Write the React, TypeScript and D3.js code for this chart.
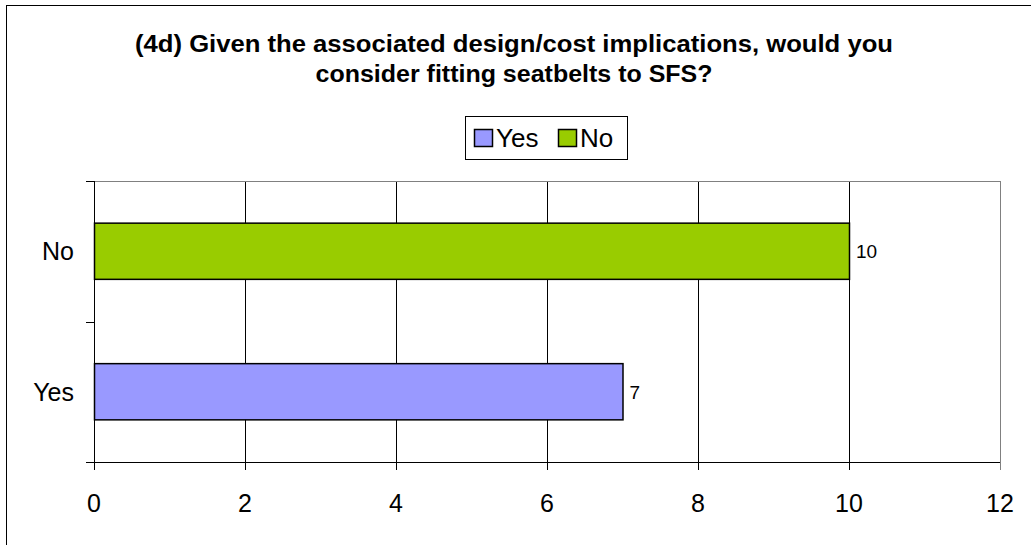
import React from "react";
import * as d3 from "d3";

const categories = ["No", "Yes"];
const values = [10, 7];
const colors = ["#99CC00", "#9999FF"];
const legendItems = ["Yes", "No"];
const legendColors = ["#9999FF", "#99CC00"];
const xTicks = [0, 2, 4, 6, 8, 10, 12];
const titleLines = [
  "(4d) Given the associated design/cost implications, would you",
  "consider fitting seatbelts to SFS?",
];

const FONT = "Arial, 'Liberation Sans', sans-serif";

export default function App() {
  const W = 1031;
  const H = 545;
  const left = 94, right = 1000, top = 181, bottom = 462;
  const x = d3.scaleLinear().domain([0, 12]).range([left, right]);
  const y = d3.scaleBand<string>().domain(categories).range([top, bottom]).paddingInner(0.6).paddingOuter(0.3);
  const step = (bottom - top) / categories.length;
  const catTicks = d3.range(categories.length + 1).map((i) => top + i * step);
  const titleWidths = [758, 397];

  return (
    <svg width={W} height={H} style={{ position: "absolute", left: 0, top: 0, background: "#fff" }} fontFamily={FONT}>
      <rect x={6.5} y={5.5} width={1030} height={545} fill="#fff" stroke="#000" strokeWidth={1} />
      {titleLines.map((t, i) => (
        <text
          key={i}
          x={514}
          y={52 + i * 30}
          textAnchor="middle"
          fontWeight="bold"
          fontSize={23}
          textLength={titleWidths[i]}
          lengthAdjust="spacingAndGlyphs"
          fill="#000"
        >
          {t}
        </text>
      ))}
      {/* legend */}
      <rect x={465.5} y={116.5} width={162} height={43} fill="#fff" stroke="#000" strokeWidth={1} />
      {legendItems.map((l, i) => {
        const lx = [474, 558][i];
        return (
          <g key={l}>
            <rect x={lx + 0.5} y={129.5} width={18} height={17} fill={legendColors[i]} stroke="#000" strokeWidth={1.5} />
            <text x={lx + 22} y={147} fontSize={26} fill="#000">{l}</text>
          </g>
        );
      })}
      {/* gridlines */}
      {xTicks.slice(1, -1).map((t) => (
        <line key={t} x1={Math.round(x(t)) + 0.5} x2={Math.round(x(t)) + 0.5} y1={top} y2={bottom} stroke="#000" strokeWidth={1} />
      ))}
      <rect x={left + 0.5} y={top + 0.5} width={right - left} height={bottom - top} fill="none" stroke="#808080" strokeWidth={1} />
      {/* bars */}
      {categories.map((c, i) => (
        <g key={c}>
          <rect
            x={x(0) + 0.5}
            y={(y(c) as number)}
            width={x(values[i]) - x(0)}
            height={y.bandwidth()}
            fill={colors[i]}
            stroke="#000"
            strokeWidth={1.5}
          />
          <text x={x(values[i]) + 7} y={(y(c) as number) + y.bandwidth() / 2 + 7} fontSize={19} fill="#000">
            {values[i]}
          </text>
          <text x={74} y={(y(c) as number) + y.bandwidth() / 2 + 9} fontSize={25} textAnchor="end" fill="#000">
            {c}
          </text>
        </g>
      ))}
      {/* axes */}
      <line x1={left + 0.5} x2={left + 0.5} y1={top} y2={bottom + 1} stroke="#000" strokeWidth={1} />
      {catTicks.map((t, i) => (
        <line key={i} x1={86} x2={left} y1={Math.round(t) + 0.5} y2={Math.round(t) + 0.5} stroke="#000" strokeWidth={1} />
      ))}
      <line x1={left} x2={right + 1} y1={bottom + 0.5} y2={bottom + 0.5} stroke="#000" strokeWidth={1} />
      {xTicks.map((t) => (
        <g key={t}>
          <line x1={Math.round(x(t)) + 0.5} x2={Math.round(x(t)) + 0.5} y1={bottom} y2={bottom + 8} stroke={t === 12 ? "#808080" : "#000"} strokeWidth={1} />
          <text x={x(t)} y={512} fontSize={25} textAnchor="middle" fill="#000">
            {t}
          </text>
        </g>
      ))}
    </svg>
  );
}
